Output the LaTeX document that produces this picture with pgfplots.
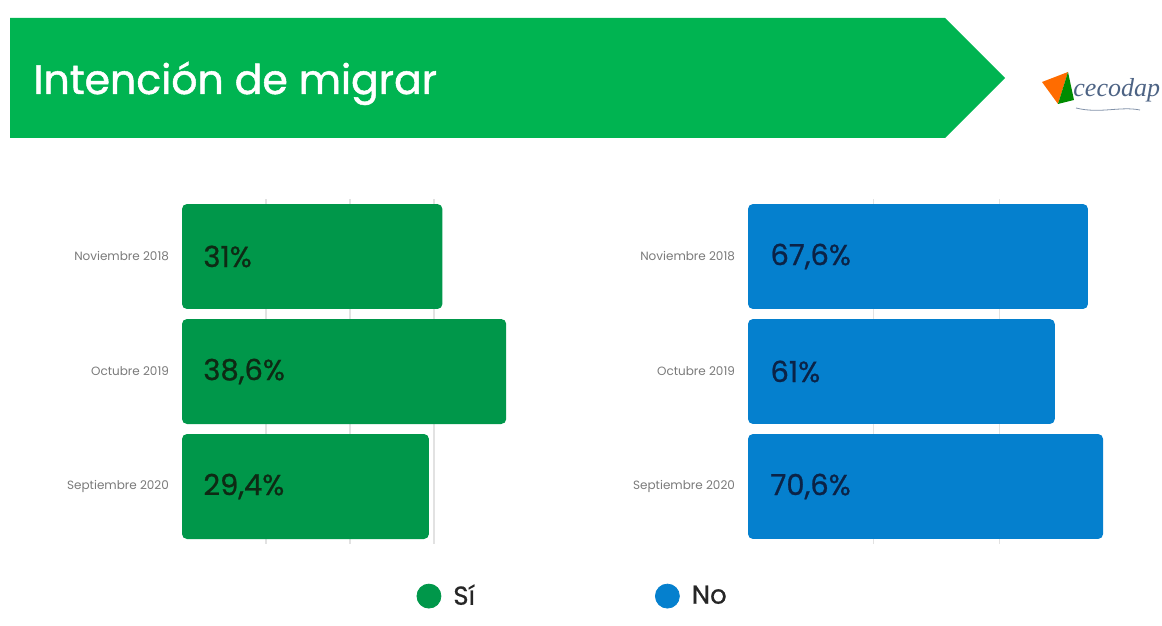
\documentclass[border=0pt]{standalone}
\usepackage{fontspec}
\setmainfont{Poppins}
\newfontfamily\logofont{Liberation Serif}
\newfontfamily\boldishfont[FakeBold=1.2]{Poppins}
\newfontfamily\midfont[FakeBold=0.8]{Poppins}
\usepackage{pgfplots}
\pgfplotsset{compat=1.18}
\definecolor{banner}{HTML}{00B451}
\definecolor{sigreen}{HTML}{00974A}
\definecolor{noblue}{HTML}{0580CE}
\definecolor{sitext}{HTML}{0E2A14}
\definecolor{notext}{HTML}{0B2347}
\definecolor{ticklab}{HTML}{7A7A7A}
\definecolor{gridc}{HTML}{E2E2E2}
\definecolor{logoc}{HTML}{4D6384}
\pgfplotsset{
  mybars/.style={
    scale only axis,
    ymin=-0.5, ymax=2.5, y dir=reverse,
    ytick={0,1,2},
    yticklabels={Noviembre 2018, Octubre 2019, Septiembre 2020},
    yticklabel style={font=\fontsize{6}{7}\selectfont, text=ticklab, xshift=-3pt},
    xticklabels={},
    xmajorgrids, grid style={gridc, line width=0.6pt},
    axis line style={draw=none},
    major tick length=0pt,
    clip=true,
  },
  vallabels/.style={
    only marks, mark=none,
    nodes near coords, point meta=explicit symbolic,
    every node near coord/.style={anchor=west, inner sep=0pt, font=\midfont\fontsize{14.5}{17}\selectfont, text=#1},
  },
}
\begin{document}
\begin{tikzpicture}
\useasboundingbox (0,0) rectangle (581pt,313pt);
% banner
\fill[banner] (5pt,304pt) -- (472.5pt,304pt) -- (502.5pt,274pt) -- (472.5pt,244pt) -- (5pt,244pt) -- cycle;
\node[anchor=base west, inner sep=0pt, text=white, font=\boldishfont\fontsize{20.5}{24}\selectfont] at (16.5pt,266pt) {Intención de migrar};
% logo
\fill[orange!85!red] (521pt,272pt) -- (534pt,277pt) -- (529pt,261pt) -- cycle;
\fill[green!55!black] (529pt,261pt) -- (534pt,277pt) -- (537pt,263pt) -- cycle;
\draw[logoc!70, line width=0.4pt] (538pt,259pt) .. controls (550pt,256pt) and (560pt,260pt) .. (570pt,258pt);
\node[anchor=base west, inner sep=0pt, text=logoc, font=\logofont\itshape\fontsize{13}{15}\selectfont] at (536.5pt,264.5pt) {cecodap};

% left chart: Si
\begin{axis}[mybars,
  at={(91pt,41pt)}, anchor=south west,
  width=168pt, height=172.5pt,
  xmin=1, xmax=41, xtick={11,21,31},
  legend columns=2,
  legend style={at={(axis description cs:0.679,-0.151)}, anchor=west, draw=none, fill=none,
    font=\midfont\fontsize{13}{15}\selectfont, text=black!85,
    /tikz/every odd column/.append style={column sep=4pt},
    /tikz/every even column/.append style={column sep=88pt},
    cells={anchor=west}},
]
\addplot[xbar, bar width=0.913, fill=sigreen, draw=none, rounded corners=2.5pt,
  x filter/.expression={x+1}, forget plot]
  coordinates {(31,0) (38.6,1) (29.4,2)};
\addplot[vallabels=sitext, forget plot] coordinates {(3.5,0) [31\%] (3.5,1) [38,6\%] (3.5,2) [29,4\%]};
\addlegendimage{legend image code/.code={\fill[sigreen] (6pt,0pt) circle (6pt);}}
\addlegendentry{Sí}
\addlegendimage{legend image code/.code={\fill[noblue] (6pt,0pt) circle (6pt);}}
\addlegendentry{No}
\end{axis}

% right chart: No
\begin{axis}[mybars,
  at={(374pt,41pt)}, anchor=south west,
  width=188.6pt, height=172.5pt,
  xmin=1, xmax=76, xtick={26,51},
]
\addplot[xbar, bar width=0.913, fill=noblue, draw=none, rounded corners=2.5pt,
  x filter/.expression={x+1}]
  coordinates {(67.6,0) (61,1) (70.6,2)};
\addplot[vallabels=notext] coordinates {(5.4,0) [67,6\%] (5.4,1) [61\%] (5.4,2) [70,6\%]};
\end{axis}
\end{tikzpicture}
\end{document}
